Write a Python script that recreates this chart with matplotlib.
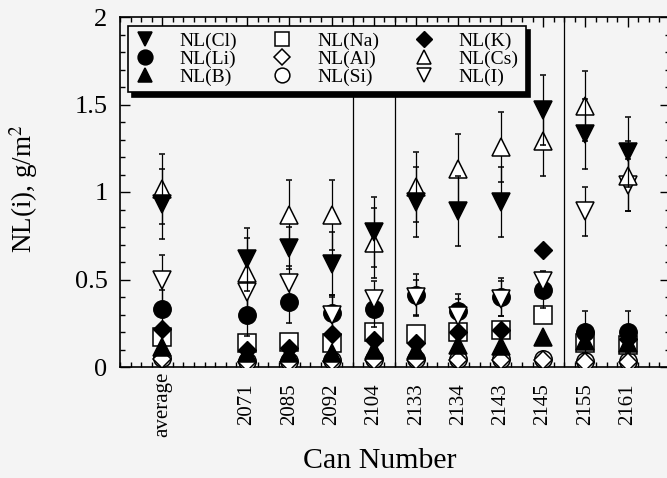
import numpy as np
import matplotlib
matplotlib.use("Agg")
import matplotlib.pyplot as plt
from matplotlib.ticker import MultipleLocator, FuncFormatter

plt.rcParams['font.family'] = ['Liberation Serif', 'DejaVu Serif']
plt.rcParams['mathtext.fontset'] = 'stix'

# categories (average is set apart from the cans by one empty slot)
cans = ['average', '2071', '2085', '2092', '2104', '2133', '2134', '2143', '2145', '2155', '2161']
xpos = np.r_[1, np.arange(3, 3 + len(cans) - 1)]

# normalized losses, g/m^2
nl_cl = [0.93, 0.615, 0.68, 0.59, 0.77, 0.945, 0.89, 0.945, 1.47, 1.33, 1.23]
nl_cl_err = [0.2, 0.18, 0.12, 0.18, 0.2, 0.2, 0.2, 0.2, 0.2, 0.2, 0.2]
nl_cs = [1.02, 0.535, 0.87, 0.87, 0.71, 1.03, 1.13, 1.26, 1.29, 1.49, 1.09]
nl_cs_err = [0.2, 0.2, 0.2, 0.2, 0.2, 0.2, 0.2, 0.2, 0.2, 0.2, 0.2]
nl_i = [0.5, 0.43, 0.48, 0.30, 0.39, 0.40, 0.29, 0.39, 0.49, 0.89, 1.04]
nl_i_err = [0.14, 0.1, 0.1, 0.1, 0.1, 0.1, 0.1, 0.1, 0.06, 0.14, 0.15]
nl_li = [0.33, 0.30, 0.37, 0.31, 0.33, 0.41, 0.32, 0.40, 0.44, 0.20, 0.20]
nl_li_err = [0.11, 0.12, 0.12, 0.1, 0.1, 0.12, 0.1, 0.11, 0.1, 0.12, 0.12]
nl_k = [0.22, 0.10, 0.11, 0.19, 0.155, 0.135, 0.20, 0.21, 0.67, 0.20, 0.16]
nl_na = [0.17, 0.135, 0.145, 0.14, 0.20, 0.19, 0.20, 0.21, 0.30, 0.135, 0.125]
nl_b = [0.115, 0.08, 0.08, 0.08, 0.10, 0.10, 0.125, 0.12, 0.17, 0.15, 0.14]
nl_al = [0.045, 0.03, 0.03, 0.035, 0.04, 0.04, 0.04, 0.04, 0.04, 0.03, 0.03]
nl_si = [0.05, 0.035, 0.035, 0.04, 0.045, 0.045, 0.045, 0.045, 0.045, 0.035, 0.035]

bg = '#f4f4f4'
fig = plt.figure(figsize=(6.67, 4.78), dpi=100, facecolor=bg)
ax = fig.add_axes([120 / 667, 111 / 478, 550 / 667, 350 / 478], facecolor=bg)

# separators between can groups
for xv in [5.5, 6.5, 10.5]:
    ax.axvline(xv, color='k', lw=0.9, zorder=1)

ms = 12.5
common = dict(ls='none', ms=ms, mec='k', mew=1.1, ecolor='k', elinewidth=0.9,
              capsize=2.5, capthick=0.9)

h = {}
h['Si'] = ax.errorbar(xpos, nl_si, marker='o', mfc='white', zorder=3, **common)
h['Al'] = ax.errorbar(xpos, nl_al, marker='D', mfc='white', ms=ms - 3, ls='none', mec='k', mew=1.1, zorder=4)
h['Na'] = ax.errorbar(xpos, nl_na, marker='s', mfc='white', zorder=3, **common)
h['B'] = ax.errorbar(xpos, nl_b, marker='^', mfc='k', zorder=4, **common)
h['K'] = ax.errorbar(xpos, nl_k, marker='D', mfc='k', ms=ms - 3, ls='none', mec='k', zorder=5)
h['Li'] = ax.errorbar(xpos, nl_li, yerr=nl_li_err, marker='o', mfc='k', zorder=5, **common)
h['I'] = ax.errorbar(xpos, nl_i, yerr=nl_i_err, marker='v', mfc='white', zorder=6, **common)
h['Cs'] = ax.errorbar(xpos, nl_cs, yerr=nl_cs_err, marker='^', mfc='white', zorder=6, **common)
h['Cl'] = ax.errorbar(xpos, nl_cl, yerr=nl_cl_err, marker='v', mfc='k', zorder=7, **common)

order = ['Cl', 'Li', 'B', 'Na', 'Al', 'Si', 'K', 'Cs', 'I']
leg = ax.legend([h[k][0] for k in order], ['NL(%s)' % k for k in order],
                ncol=3, loc='upper left', bbox_to_anchor=(0.015, 0.975),
                borderaxespad=0, fontsize=14, frameon=True, fancybox=False,
                edgecolor='k', facecolor=bg, framealpha=1,
                shadow={'color': 'k', 'alpha': 1, 'ox': 3, 'oy': -3},
                handlelength=1.0, handletextpad=1.3, columnspacing=1.8,
                labelspacing=0.0, borderpad=0.35, markerscale=0.85)
leg.get_frame().set_linewidth(1.2)
leg.set_zorder(10)

ax.set_xlim(0, 13)
ax.set_ylim(0, 2)
ax.set_xticks(xpos)
ax.set_xticklabels(cans, rotation=90, va='center', fontsize=15)
ax.xaxis.set_minor_locator(MultipleLocator(0.25))
ax.yaxis.set_major_locator(MultipleLocator(0.5))
ax.yaxis.set_minor_locator(MultipleLocator(0.1))
ax.yaxis.set_major_formatter(FuncFormatter(lambda v, p: '%g' % v))
ax.tick_params(which='both', direction='in', top=True, right=True, width=1)
ax.tick_params(which='major', length=7)
ax.tick_params(which='minor', length=3.5)
ax.tick_params(axis='x', which='major', pad=27)
ax.tick_params(axis='y', labelsize=19, pad=9)
for sp in ax.spines.values():
    sp.set_linewidth(1.2)

ax.set_xlabel('Can Number', fontsize=21.5)
ax.xaxis.label.set_va('center')
ax.xaxis.set_label_coords((380 - 120) / 550, -0.27)
ax.set_ylabel('NL(i), g/m$^2$', fontsize=19.5)
ax.yaxis.label.set_va('center')
ax.yaxis.set_label_coords((24 - 120) / 550, (367 - 188) / 350)

fig.savefig('out.png', dpi=100, facecolor=bg)
